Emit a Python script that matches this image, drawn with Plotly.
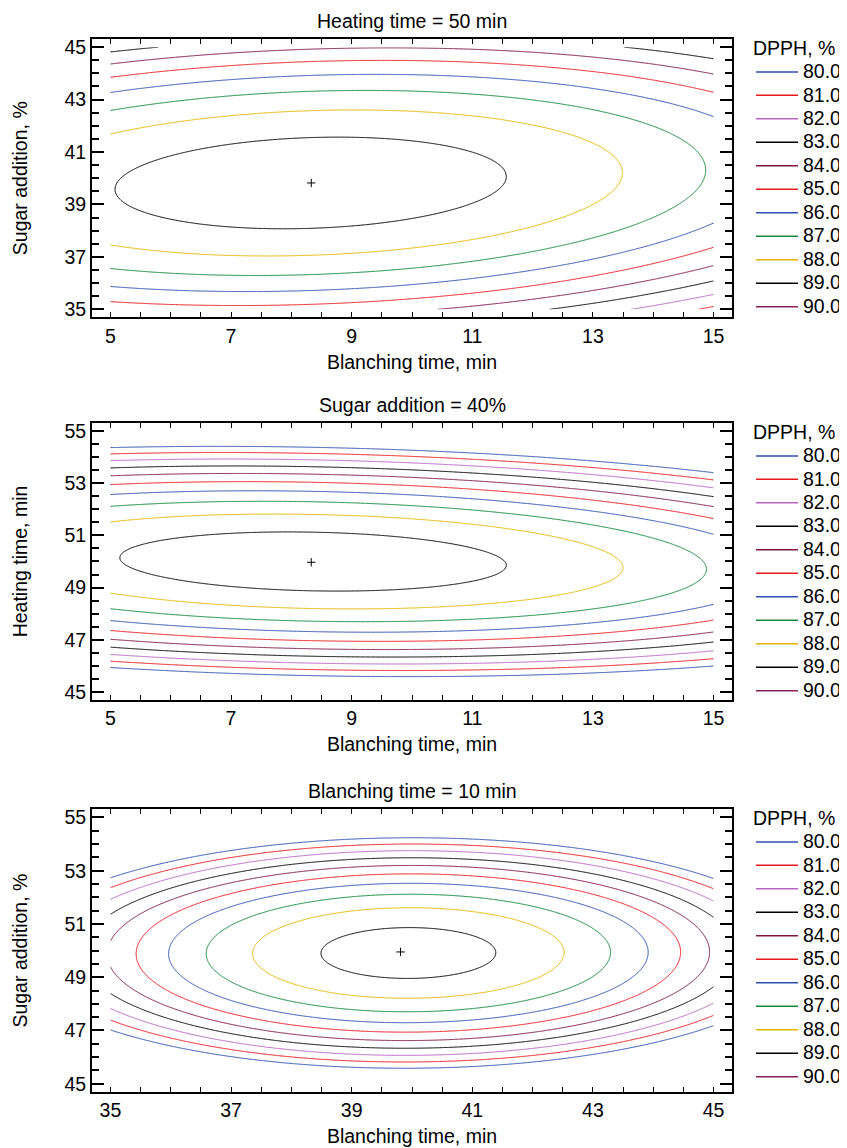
import numpy as np
import plotly.graph_objects as go

# contour levels (DPPH, %) and their line colours
levels = [80.0, 81.0, 82.0, 83.0, 84.0, 85.0, 86.0, 87.0, 88.0, 89.0, 90.0]
level_colors = ["#2e4fb0", "#e8191e", "#b864c4", "#000000", "#7f1547", "#e8191e",
                "#2e4fb0", "#12883a", "#e6b400", "#000000", "#8a1f52"]

panel_titles = ["Heating time = 50 min", "Sugar addition = 40%", "Blanching time = 10 min"]
x_titles = ["Blanching time, min", "Blanching time, min", "Blanching time, min"]
y_titles = ["Sugar addition, %", "Heating time, min", "Sugar addition, %"]
x_limits = [[5, 15], [5, 15], [35, 45]]
y_limits = [[35, 45], [45, 55], [45, 55]]

# fitted quadratic response surface for each slice
surf_peak = [89.65, 89.636, 89.46]
surf_x0 = [8.32, 8.36, 39.94]
surf_y0 = [39.82, 50.0, 49.91]
surf_a = [0.063, 0.063, 0.219]
surf_b = [0.217, 0.502, 0.505]
surf_c = [-0.0325, 0.0454, -0.007]

# optimum markers
opt_x = [8.33, 8.33, 39.81]
opt_y = [39.82, 49.97, 49.95]

FONT = "Arial, 'Liberation Sans', sans-serif"
FS = 19.5
# page body has an 8px margin; the figure starts at (8, 8)
W, H = 860, 1140
M_L, M_T, M_B = 84, 31.3, 56
M_R = W - 724.5
plot_h = H - M_T - M_B
# panel top / bottom in figure pixels
panel_px = [(31.3, 309.7), (415.3, 692.0), (801.3, 1084.0)]
domains = [[max(0.0, (H - M_B - b) / plot_h), min(1.0, (H - M_B - t) / plot_h)] for t, b in panel_px]

fig = go.Figure()
annotations = []
layout = {}

for i in range(3):
    sfx = "" if i == 0 else str(i + 1)
    xa, ya = "x" + sfx, "y" + sfx
    leg = "legend" + sfx
    x0, x1 = x_limits[i]
    y0, y1 = y_limits[i]
    gx = np.linspace(x0, x1, 241)
    gy = np.linspace(y0, y1, 241)
    X, Y = np.meshgrid(gx, gy)
    dx, dy = X - surf_x0[i], Y - surf_y0[i]
    Z = surf_peak[i] - surf_a[i] * dx ** 2 - surf_b[i] * dy ** 2 - surf_c[i] * dx * dy

    for lv, col in zip(levels, level_colors):
        fig.add_trace(go.Contour(
            x=gx, y=gy, z=Z, xaxis=xa, yaxis=ya,
            contours=dict(start=lv, end=lv, size=1, coloring="lines"),
            colorscale=[[0, col], [1, col]], showscale=False,
            line=dict(width=1, smoothing=0), showlegend=False, hoverinfo="skip",
        ))
        fig.add_trace(go.Scatter(
            x=[None], y=[None], xaxis=xa, yaxis=ya, mode="lines",
            line=dict(color=col, width=1.5), legend=leg,
            name=f"<span style='font-size:{FS}px'>{lv:.1f}</span>",
        ))

    fig.add_trace(go.Scatter(
        x=[opt_x[i]], y=[opt_y[i]], xaxis=xa, yaxis=ya, mode="markers",
        marker=dict(symbol="cross-thin", size=6, line=dict(width=1, color="black")),
        showlegend=False, hoverinfo="skip",
    ))

    layout["xaxis" + sfx] = dict(
        domain=[0, 1], anchor=ya, range=[x0 - 0.305, x1 + 0.305],
        tickmode="linear", tick0=x0, dtick=2, ticks="inside", ticklen=5, tickwidth=1,
        minor=dict(tick0=x0, dtick=0.5, ticks="inside", ticklen=5, tickwidth=1, tickcolor="black"),
        showline=True, linewidth=2, linecolor="black", mirror="ticks",
        showgrid=False, zeroline=False, tickcolor="black", automargin=False,
        tickfont=dict(size=FS, color="black"),
        title=dict(text=x_titles[i], font=dict(size=FS, color="black"), standoff=9),
    )
    layout["yaxis" + sfx] = dict(
        domain=domains[i], anchor=xa, range=[y0 - 0.31, y1 + 0.31],
        tickmode="linear", tick0=y0, dtick=2, ticks="inside", ticklen=12, tickwidth=1.5,
        minor=dict(tick0=y0, dtick=0.5, ticks="inside", ticklen=7, tickwidth=1.5, tickcolor="black"),
        showline=True, linewidth=2, linecolor="black", mirror="ticks",
        showgrid=False, zeroline=False, tickcolor="black", automargin=False,
        tickfont=dict(size=FS, color="black"),
        title=dict(text=y_titles[i], font=dict(size=FS, color="black"), standoff=32),
    )
    layout[leg] = dict(
        xref="container", yref="container",
        x=743 / W, xanchor="left", y=1 - (panel_px[i][0] - 9.5) / H, yanchor="top",
        title=dict(text="DPPH, %", font=dict(size=FS, color="black")),
        font=dict(size=15.75, color="black"), bgcolor="rgba(0,0,0,0)",
        itemwidth=42, itemclick=False, itemdoubleclick=False,
    )
    annotations.append(dict(
        text=panel_titles[i], xref="paper", yref="paper", x=0.5, y=domains[i][1],
        xanchor="center", yanchor="bottom", yshift=5, showarrow=False,
        font=dict(size=FS, color="black"),
    ))

fig.update_layout(
    width=W, height=H,
    margin=dict(l=M_L, r=M_R, t=M_T, b=M_B, autoexpand=False),
    paper_bgcolor="white", plot_bgcolor="white",
    font=dict(family=FONT, size=FS, color="black"),
    annotations=annotations,
    **layout,
)

fig.write_html("out.html")
